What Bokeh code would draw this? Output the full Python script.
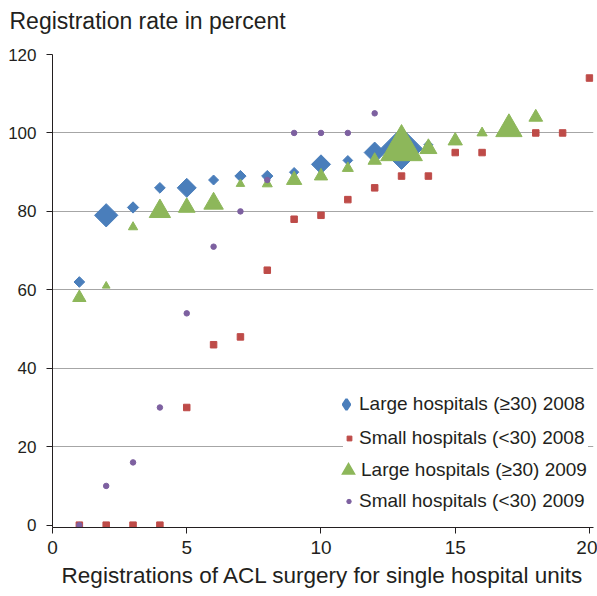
import math
from bokeh.plotting import figure
from bokeh.models import ColumnDataSource, Range1d, FixedTicker, Legend, LegendItem, Title
from bokeh.embed import file_html
from bokeh.resources import INLINE

# ---------------- data ----------------
x_ticks = [0, 5, 10, 15, 20]
y_ticks = [0, 20, 40, 60, 80, 100, 120]
y_grid_ticks = [20, 40, 60, 80, 100, 120]

large_2008_units = [1, 2, 3, 4, 5, 6, 7, 8, 9, 10, 11, 12, 13, 14, 15]
large_2008_rate = [62, 79, 81, 86, 86, 88, 89, 89, 90, 92, 93, 95, 96, 97, 98]
large_2008_width_px = [10.7, 23.3, 11.3, 10.7, 19, 10, 11.3, 11.3, 9.3, 19, 9.7, 21, 41.7, 9, 8.5]

small_2008_units = [1, 2, 3, 4, 5, 6, 7, 8, 9, 10, 11, 12, 13, 14, 15, 16, 18, 19, 20]
small_2008_rate = [0, 0, 0, 0, 30, 46, 48, 65, 78, 79, 83, 86, 89, 89, 95, 95, 100, 100, 114]

large_2009_units = [1, 2, 3, 4, 5, 6, 7, 8, 9, 10, 11, 12, 13, 14, 15, 16, 17, 18]
large_2009_rate = [58, 61, 76, 80, 81, 82, 87, 87, 88, 89, 91, 93, 96, 96, 98, 100, 101, 104]
large_2009_width_px = [13.3, 7.7, 9.3, 21.3, 16.7, 19.5, 8.5, 10, 15.3, 13.3, 11, 13.3, 41.7, 17, 14.3, 10.2, 26.3, 13.7]

small_2009_units = [1, 2, 3, 4, 5, 6, 7, 8, 9, 10, 11, 12]
small_2009_rate = [0, 10, 16, 30, 54, 71, 80, 88, 100, 100, 100, 105]

series_labels = [
    "Large hospitals (\u226530) 2008",
    "Small hospitals (<30) 2008",
    "Large hospitals (\u226530) 2009",
    "Small hospitals (<30) 2009",
]
title_text = "Registration rate in percent"
x_axis_title = "Registrations of ACL surgery for single hospital units"

# ---------------- styles ----------------
BLUE = "#4A7EBB"
RED = "#BE4B48"
GREEN = "#8DB75A"
PURPLE = "#7D60A0"
INK = "#231F20"
FONT = "Liberation Sans"

p = figure(
    width=597, height=596, title=None,
    x_range=Range1d(0, 20.15), y_range=Range1d(-0.6, 120),
    output_backend="svg", toolbar_location=None,
    min_border_left=52, min_border_right=4, min_border_top=54, min_border_bottom=69,
)
p.outline_line_color = None
p.background_fill_color = "white"
p.border_fill_color = "white"

# spacer between the chart title and the plot area (nearest the frame)
spacer = Title(text=" ", text_font=FONT, text_font_size="14px", standoff=0)
p.add_layout(spacer, "above")
main_title = Title(text=title_text, text_font=FONT, text_font_size="23px",
                   text_font_style="normal", text_color=INK, align="left",
                   offset=-43, standoff=6)
p.add_layout(main_title, "above")

p.xgrid.visible = False
p.ygrid.ticker = FixedTicker(ticks=y_grid_ticks)
p.ygrid.grid_line_color = "#A6A6A6"
p.ygrid.grid_line_width = 1

for ax in (p.xaxis[0], p.yaxis[0]):
    ax.axis_line_color = INK
    ax.major_tick_line_color = INK
    ax.minor_tick_line_color = None
    ax.major_tick_in = 0
    ax.major_tick_out = 6
    ax.major_label_text_font = FONT
    ax.major_label_text_color = INK

p.xaxis.major_label_text_font_size = "19px"
p.xaxis.major_label_standoff = 7
p.yaxis.major_label_text_font_size = "17px"
p.yaxis.major_label_standoff = 10

p.xaxis.ticker = FixedTicker(ticks=x_ticks)
p.yaxis.ticker = FixedTicker(ticks=y_ticks)
p.xaxis.axis_label = x_axis_title
p.xaxis.axis_label_text_font = FONT
p.xaxis.axis_label_text_font_size = "22.5px"
p.xaxis.axis_label_text_font_style = "normal"
p.xaxis.axis_label_text_color = INK
p.xaxis.axis_label_standoff = 6

# ---------------- marks ----------------
src_l08 = ColumnDataSource(dict(
    x=large_2008_units, y=large_2008_rate,
    s=[w / math.sqrt(2) for w in large_2008_width_px]))
r_l08 = p.scatter("x", "y", source=src_l08, marker="square", size="s",
                  angle=math.pi / 4, fill_color=BLUE, line_color=BLUE)

src_s08 = ColumnDataSource(dict(x=small_2008_units, y=small_2008_rate))
r_s08 = p.scatter("x", "y", source=src_s08, marker="square", size=6.5,
                  fill_color=RED, line_color=RED)

src_l09 = ColumnDataSource(dict(x=large_2009_units, y=large_2009_rate, s=large_2009_width_px))
r_l09 = p.scatter("x", "y", source=src_l09, marker="triangle", size="s",
                  fill_color=GREEN, line_color=GREEN)

src_s09 = ColumnDataSource(dict(x=small_2009_units, y=small_2009_rate))
r_s09 = p.scatter("x", "y", source=src_s09, marker="circle", size=5.5,
                  fill_color=PURPLE, line_color=PURPLE)

# hidden twins used only as legend keys (legend swatches are drawn unrotated
# and with a size taken from the key box)
r_key08 = p.scatter("x", "y", source=src_l08, marker="diamond", size=10,
                    fill_color=BLUE, line_color=BLUE, line_width=2.5, visible=False)
r_key09 = p.scatter("x", "y", source=src_l09, marker="triangle", size=10,
                    fill_color=GREEN, line_color=GREEN, line_width=2.5,
                    line_join="miter", visible=False)


def make_legend(label, renderer, gw, gh, pad, standoff, loc, label_width):
    leg = Legend(
        items=[LegendItem(label=label, renderers=[renderer])],
        location=loc, margin=0, padding=pad, spacing=0,
        glyph_width=gw, glyph_height=gh, label_height=gh,
        label_standoff=standoff, label_width=label_width,
        label_text_font=FONT, label_text_font_size="19px", label_text_color=INK,
        background_fill_color="white", background_fill_alpha=1.0,
        border_line_color=None,
    )
    return leg


leg1 = make_legend(series_labels[0], r_key08, 26, 26, 6, 0, (281, 110), 200)
leg3 = make_legend(series_labels[2], r_key09, 26, 26, 12, 0, (283, 44), 222)
leg2 = make_legend(series_labels[1], r_s08, 12, 24, 6, 4, (291, 77), 229)
leg4 = make_legend(series_labels[3], r_s09, 11, 24, 6, 5, (291, 14), 200)
for leg in (leg1, leg3, leg2, leg4):
    p.add_layout(leg)

open("out.html", "w").write(file_html(p, INLINE))
